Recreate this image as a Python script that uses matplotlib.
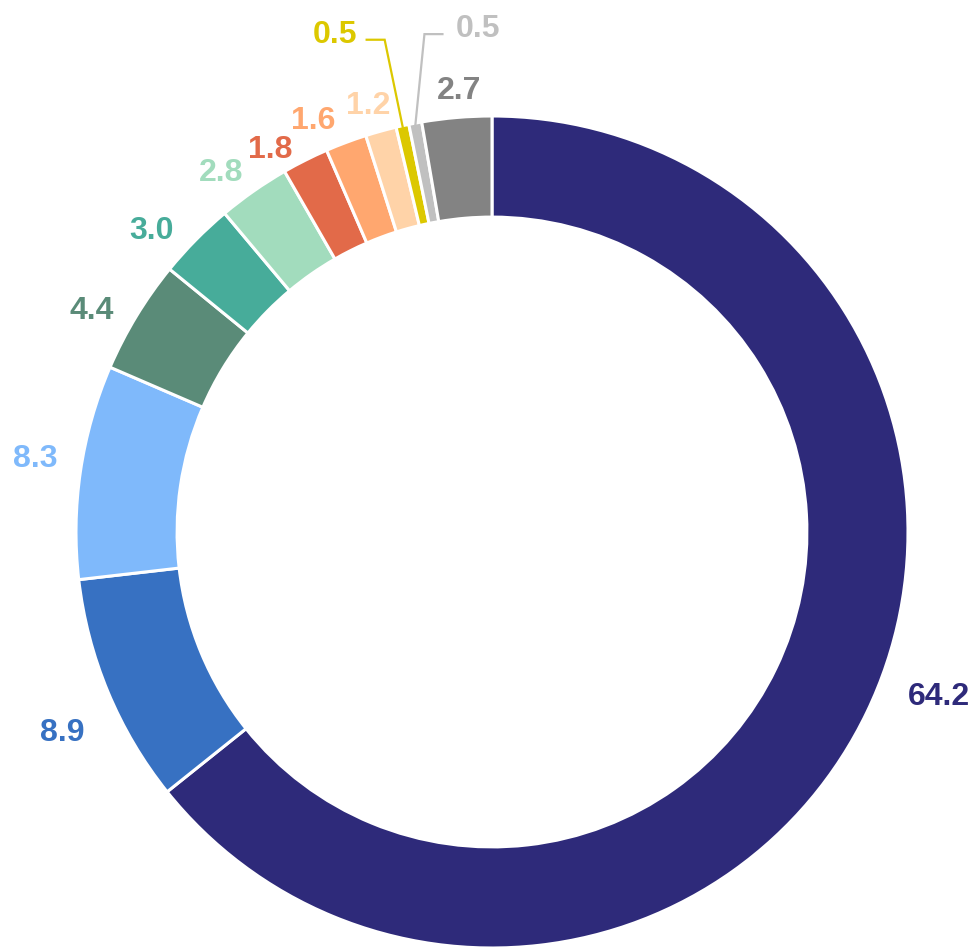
import numpy as np
import matplotlib.pyplot as plt

plt.rcParams['font.family'] = ['Liberation Sans', 'DejaVu Sans']

# slice values, clockwise from 12 o'clock
values = [64.2, 8.9, 8.3, 4.4, 3.0, 2.8, 1.8, 1.6, 1.2, 0.5, 0.5, 2.7]
labels = ['64.2', '8.9', '8.3', '4.4', '3.0', '2.8', '1.8', '1.6', '1.2', '0.5', '0.5', '2.7']
colors = ['#2E2A7A', '#3771C2', '#7FB9FB', '#5A8B78', '#47AC9A', '#A2DCBD',
          '#E26A49', '#FFA76F', '#FFD3A8', '#DCC800', '#C0C0C0', '#838383']

fig = plt.figure(figsize=(9.77, 9.47), dpi=100)
ax = fig.add_axes([0, 0, 1, 1])

cx, cy, R = 492, 947 - 532, 416
wedges, _ = ax.pie(values, colors=colors, startangle=90, counterclock=False,
                   radius=R, center=(cx, cy), frame=True,
                   wedgeprops=dict(width=0.243 * R, edgecolor='white', linewidth=2.2))
ax.set_xlim(0, 977)
ax.set_ylim(0, 947)
ax.set_aspect('equal')
ax.axis('off')

# label layout: (angle shift in deg, radius in px) per slice
layout = {0: (5.8, 475), 1: (2.0, 473), 2: (-1.2, 463), 3: (1.9, 459),
          4: (2.7, 457), 5: (1.8, 453), 6: (3.2, 445), 7: (2.7, 452),
          8: (0.6, 448), 11: (-0.6, 446)}
# callout lines for the thin slices: elbow offset from slice edge, horizontal run
leaders = {9: ((-18, 87), -18), 10: ((9, 90), 18)}
dy_text = -4  # text bbox includes descent, nudge digits down

for i, w in enumerate(wedges):
    mid = (w.theta1 + w.theta2) / 2
    if i in leaders:
        a = np.deg2rad(mid)
        (ex, ey), hx = leaders[i]
        sx, sy = cx + (R - 1) * np.cos(a), cy + (R - 1) * np.sin(a)
        px, py = sx + ex, sy + ey
        qx = px + hx
        ax.plot([sx, px, qx], [sy, py, py], color=colors[i], lw=1.6,
                solid_joinstyle='miter')
        ha = 'right' if hx < 0 else 'left'
        ax.text(qx + (-9 if hx < 0 else 13), py + 8 + dy_text + 1, labels[i],
                ha=ha, va='center', color=colors[i], fontsize=23, fontweight='bold')
        continue
    shift, r = layout[i]
    a = np.deg2rad(mid + shift)
    ax.text(cx + r * np.cos(a), cy + r * np.sin(a) + dy_text, labels[i],
            ha='center', va='center', color=colors[i],
            fontsize=23, fontweight='bold')

fig.savefig('out.png', dpi=100)
